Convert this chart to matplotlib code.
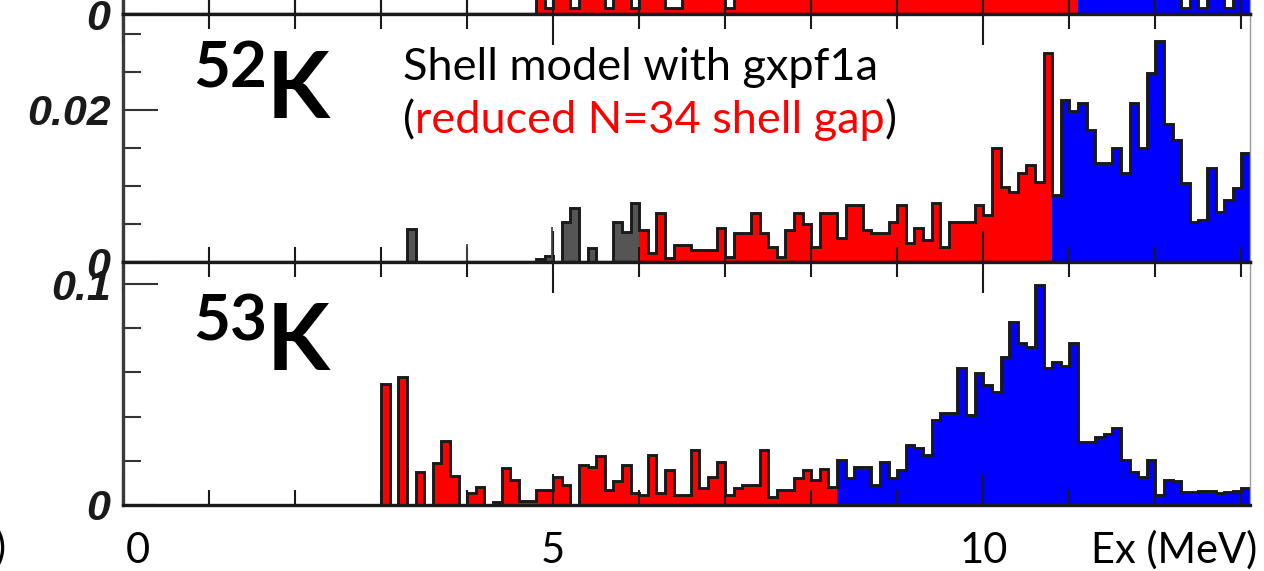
import numpy as np
import matplotlib.pyplot as plt
from matplotlib.ticker import FixedLocator, MultipleLocator, NullFormatter
from matplotlib.transforms import offset_copy, blended_transform_factory

plt.rcParams['font.family'] = ['Lato', 'DejaVu Sans']

# bins of 0.1 MeV from 0 to 13.1 MeV
edges = np.round(np.arange(0, 13.15, 0.1), 1)

# 52K strength per bin, bins 3.0 ... 13.0 MeV (zero below 3 MeV)
k52_values = [
    0, 0, 0, 0.0043, 0, 0, 0, 0, 0, 0,
    0, 0, 0, 0, 0, 0, 0, 0, 0.0004, 0.0008,
    0, 0.0053, 0.0071, 0, 0.0018, 0, 0, 0.0053, 0.0040, 0.0078,
    0.0042, 0.0012, 0.0064, 0.0005, 0.0022, 0.0022, 0.0016, 0.0016, 0.0016, 0.0045,
    0.0007, 0.0038, 0.0038, 0.0064, 0.0038, 0.0020, 0.0007, 0.0042, 0.0064, 0.0050,
    0.0020, 0.0064, 0.0064, 0.0032, 0.0075, 0.0075, 0.0042, 0.0038, 0.0038, 0.0053,
    0.0075, 0.0025, 0.0045, 0.0029, 0.0078, 0.0020, 0.0053, 0.0053, 0.0053, 0.0075,
    0.0062, 0.0150, 0.0099, 0.0092, 0.0117, 0.0128, 0.0105, 0.0275, 0.0088, 0.0213,
    0.0198, 0.0209, 0.0174, 0.0130, 0.0130, 0.0150, 0.0117, 0.0209, 0.0150, 0.0248,
    0.0290, 0.0182, 0.0160, 0.0104, 0.0053, 0.0055, 0.0123, 0.0066, 0.0082, 0.0097,
    0.0143,
]
k52_spike_x = [4.0, 4.99]
k52_spike_y = [0.0024, 0.0046]

# 53K strength per bin, bins 3.0 ... 13.0 MeV
k53_values = [
    0.055, 0, 0.058, 0, 0.0151, 0, 0.019, 0.029, 0.013, 0,
    0.0054, 0.0083, 0, 0.0015, 0.0166, 0.0113, 0.002, 0.002, 0.0068, 0.0068,
    0.0125, 0.009, 0, 0.018, 0.017, 0.022, 0.0068, 0.011, 0.018, 0.0053,
    0.0045, 0.0226, 0.0053, 0.0160, 0.0045, 0.0045, 0.0249, 0.0075, 0.0128, 0.0196,
    0.0045, 0.0075, 0.009, 0.009, 0.0249, 0.0038, 0.0068, 0.0068, 0.012, 0.0158,
    0.0115, 0.0162, 0.0083, 0.0204, 0.012, 0.0173, 0.0173, 0.009, 0.0196, 0.012,
    0.0158, 0.0271, 0.026, 0.0226, 0.0385, 0.0415, 0.0415, 0.0618, 0.0407, 0.0596,
    0.0543, 0.051, 0.067, 0.083, 0.0732, 0.0716, 0.0995, 0.0618, 0.0649, 0.063,
    0.0732, 0.0287, 0.0287, 0.0309, 0.032, 0.0347, 0.0204, 0.0151, 0.0128, 0.0204,
    0.0045, 0.0113, 0.011, 0.006, 0.006, 0.0062, 0.0065, 0.0055, 0.0058, 0.0065,
    0.0075,
]

# panel above (cut off by the crop), relative heights, bins 4.8 ... 13.0 MeV
k51_values = [
    2, 0.4, 2, 2, 0.4, 2, 2, 2, 0.4, 2,
    2, 0.4, 2, 2, 2, 0.4, 0.4, 2, 2, 2,
    2, 2, 0.4, 2, 2, 2, 2, 2, 2, 2,
    2, 2, 2, 2, 2, 2, 2, 2, 2, 2,
    2, 2, 2, 2, 2, 2, 2, 2, 2, 2,
    2, 2, 2, 2, 2, 2, 2, 2, 2, 2,
    2, 2, 2, 2, 2, 2, 2, 2, 2, 2,
    2, 2, 2, 2, 2, 0.4, 2, 0.4, 2, 2,
    0.4, 2, 2,
]

k52 = np.concatenate([np.zeros(30), k52_values])
k53 = np.concatenate([np.zeros(30), k53_values])
k51 = np.concatenate([np.zeros(48), k51_values])

GRAY, RED, BLUE = '#555555', '#ff0000', '#0000ff'
EDGE = '#1a1a1a'

fig = plt.figure(figsize=(12.64, 5.71), dpi=100)
W, H = 1264, 571
x0, x1 = 123, 1250


def make_axes(top, bottom):
    return fig.add_axes([x0 / W, (H - bottom) / H, (x1 - x0) / W, (bottom - top) / H])


ax0 = make_axes(-2, 14)
ax1 = make_axes(14, 262)
ax2 = make_axes(262, 505)


def draw_hist(ax, vals, splits):
    # splits: list of (lo_energy, hi_energy, colour)
    for lo, hi, c in splits:
        i0, i1 = int(round(lo * 10)), int(round(hi * 10))
        ax.stairs(vals[i0:i1], edges[i0:i1 + 1], fill=True, color=c, lw=0)
    ax.stairs(vals, edges, color=EDGE, lw=2.1, baseline=0)


draw_hist(ax0, k51, [(4.8, 11.1, RED), (11.1, 13.1, BLUE)])
draw_hist(ax1, k52, [(0.0, 6.0, GRAY), (6.0, 10.8, RED), (10.8, 13.1, BLUE)])
ax1.vlines(k52_spike_x, 0, k52_spike_y, color='#444444', lw=1.3)
draw_hist(ax2, k53, [(0.0, 8.3, RED), (8.3, 13.1, BLUE)])

label_font = dict(family=['Liberation Sans', 'DejaVu Sans'], weight='bold',
                  style='italic', size=31)

for ax, ymax, major, minor, labels in [
    (ax0, 1.0, [0], 1.0, ['0']),
    (ax1, 0.0326, [0, 0.02], 0.005, ['0', '0.02']),
    (ax2, 0.11, [0, 0.1], 0.02, ['0', '0.1']),
]:
    ax.set_xlim(0, 13.1)
    ax.set_ylim(0, ymax)
    ax.xaxis.set_major_locator(FixedLocator([0, 5, 10]))
    ax.xaxis.set_minor_locator(MultipleLocator(1))
    ax.xaxis.set_major_formatter(NullFormatter())
    ax.yaxis.set_major_locator(FixedLocator(major))
    ax.yaxis.set_minor_locator(MultipleLocator(minor))
    ax.set_yticklabels(labels, fontdict=label_font, color='#1a1a1a')
    ax.tick_params(axis='x', which='both', direction='in', top=True, bottom=True,
                   color=EDGE, width=1.5)
    ax.tick_params(axis='x', which='major', length=22)
    ax.tick_params(axis='x', which='minor', length=11)
    ax.tick_params(axis='y', which='both', direction='in', left=True, right=False,
                   color='#333333', width=1.5, pad=9)
    ax.tick_params(axis='y', which='major', length=25)
    ax.tick_params(axis='y', which='minor', length=13)
    for side in ['top', 'bottom']:
        ax.spines[side].set_linewidth(2.4)
        ax.spines[side].set_color(EDGE)
    ax.spines['left'].set_linewidth(2.4)
    ax.spines['left'].set_color('#3a3a3a')
    ax.spines['right'].set_linewidth(1.0)
    ax.spines['right'].set_color('#9a9a9a')

ax0.tick_params(axis='y', which='minor', length=0)

# nucleus labels
for ax, mass, y_mass, y_k in [(ax1, '52', 0.702, 0.581), (ax2, '53', 0.679, 0.556)]:
    ax.text(0.062, y_mass, mass, transform=ax.transAxes, fontsize=46,
            fontweight='bold', va='baseline', ha='left')
    ax.text(0.127, y_k, 'K', transform=ax.transAxes, fontsize=66,
            fontweight='bold', va='baseline', ha='left')

# model description
ax1.text(0.2484, 0.734, 'Shell model with gxpf1a', transform=ax1.transAxes,
         fontsize=32.5, va='baseline', ha='left')
parts = [('(', 'black'), ('reduced N=34 shell gap', RED), (')', 'black')]
offset = 0.0
fig.canvas.draw()
for txt, col in parts:
    t = ax1.text(0.2484, 0.520, txt, color=col, fontsize=32.5, va='baseline', ha='left',
                 transform=offset_copy(ax1.transAxes, fig=fig, x=offset, units='dots'))
    offset += t.get_window_extent(fig.canvas.get_renderer()).width

# energy axis labels under the lower panel
xlab = blended_transform_factory(ax2.transData, ax2.transAxes)
for xv, s in [(0.17, '0'), (5, '5'), (10, '10')]:
    ax2.text(xv, -0.239, s, transform=xlab, fontsize=30, ha='center', va='baseline')
ax2.text(1.006, -0.239, 'Ex (MeV)', transform=ax2.transAxes, fontsize=30,
         ha='right', va='baseline')
fig.text(-0.004, 0.018, ')', fontsize=30, ha='left', va='baseline')

fig.savefig('out.png', dpi=100, facecolor='white')
